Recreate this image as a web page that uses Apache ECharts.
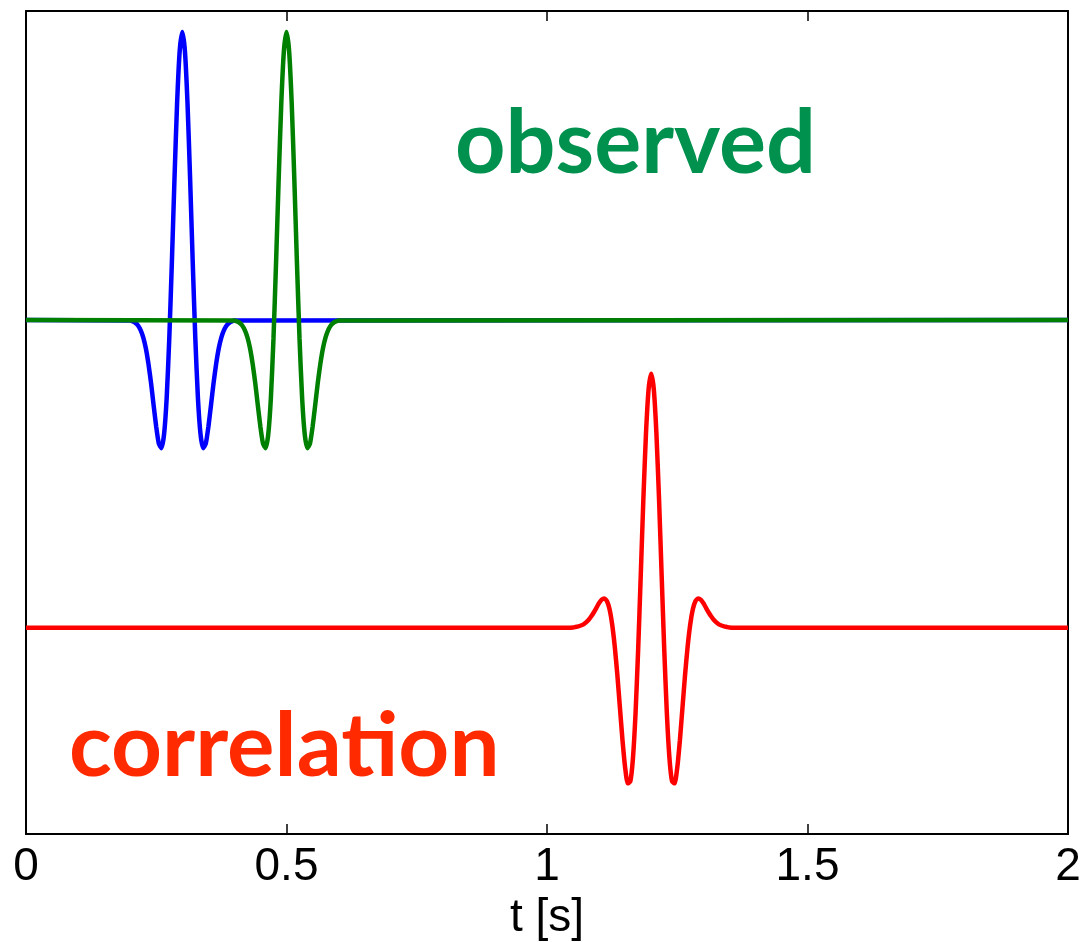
<!DOCTYPE html>
<html>
<head>
<meta charset="utf-8">
<script src="https://cdn.jsdelivr.net/npm/echarts@6/dist/echarts.min.js"></script>
<style>html,body{margin:0;padding:0;background:#fff}#c{width:1087px;height:942px}</style>
</head>
<body>
<div id="c"></div>
<script>
// x tick labels
var xTicks = [0, 0.5, 1, 1.5, 2];

// source wavelet (blue), centred at 0.3 s
var blueT = [0, 0.2, 0.205, 0.21, 0.215, 0.22, 0.225, 0.23, 0.235, 0.24, 0.245, 0.25, 0.255, 0.26, 0.265, 0.27, 0.275, 0.28, 0.285, 0.29, 0.295, 0.3,
  0.305, 0.31, 0.315, 0.32, 0.325, 0.33, 0.335, 0.34, 0.345, 0.35, 0.355, 0.36, 0.365, 0.37, 0.375, 0.38, 0.385, 0.39, 0.395, 0.4, 2];
var blueY = [0, -0.002, -0.005, -0.010, -0.019, -0.035, -0.060, -0.098, -0.152, -0.219, -0.297, -0.372, -0.430, -0.445, -0.397, -0.271, -0.065, 0.201, 0.490, 0.752, 0.934, 1.000,
  0.934, 0.752, 0.490, 0.201, -0.065, -0.271, -0.397, -0.445, -0.430, -0.372, -0.297, -0.219, -0.152, -0.098, -0.060, -0.035, -0.019, -0.010, -0.005, -0.002, 0];

// observed wavelet (green), centred at 0.5 s
var greenT = [0, 0.4, 0.405, 0.41, 0.415, 0.42, 0.425, 0.43, 0.435, 0.44, 0.445, 0.45, 0.455, 0.46, 0.465, 0.47, 0.475, 0.48, 0.485, 0.49, 0.495, 0.5,
  0.505, 0.51, 0.515, 0.52, 0.525, 0.53, 0.535, 0.54, 0.545, 0.55, 0.555, 0.56, 0.565, 0.57, 0.575, 0.58, 0.585, 0.59, 0.595, 0.6, 2];
var greenY = [0, -0.002, -0.005, -0.010, -0.019, -0.035, -0.060, -0.098, -0.152, -0.219, -0.297, -0.372, -0.430, -0.445, -0.397, -0.271, -0.065, 0.201, 0.490, 0.752, 0.934, 1.000,
  0.934, 0.752, 0.490, 0.201, -0.065, -0.271, -0.397, -0.445, -0.430, -0.372, -0.297, -0.219, -0.152, -0.098, -0.060, -0.035, -0.019, -0.010, -0.005, -0.002, 0];

// correlation (red), centred at 1.2 s, baseline -1.069
var redT = [0, 1.04, 1.05, 1.055, 1.06, 1.065, 1.07, 1.075, 1.08, 1.085, 1.09, 1.095, 1.1, 1.105, 1.11, 1.115, 1.12, 1.125, 1.13, 1.135, 1.14, 1.145, 1.15, 1.155, 1.16, 1.165, 1.17, 1.175, 1.18, 1.185, 1.19, 1.195, 1.2,
  1.205, 1.21, 1.215, 1.22, 1.225, 1.23, 1.235, 1.24, 1.245, 1.25, 1.255, 1.26, 1.265, 1.27, 1.275, 1.28, 1.285, 1.29, 1.295, 1.3, 1.305, 1.31, 1.315, 1.32, 1.325, 1.33, 1.335, 1.34, 1.345, 1.35, 1.36, 2];
var redY = [-1.069, -1.069, -1.068, -1.066, -1.064, -1.061, -1.057, -1.050, -1.041, -1.029, -1.015, -0.999, -0.983, -0.971, -0.967, -0.976, -1.004, -1.056, -1.133, -1.232, -1.347, -1.461, -1.555, -1.609, -1.602, -1.521, -1.364, -1.143, -0.884, -0.620, -0.394, -0.241, -0.187,
  -0.241, -0.394, -0.620, -0.884, -1.143, -1.364, -1.521, -1.602, -1.609, -1.555, -1.461, -1.347, -1.232, -1.133, -1.056, -1.004, -0.976, -0.967, -0.971, -0.983, -0.999, -1.015, -1.029, -1.041, -1.050, -1.057, -1.061, -1.064, -1.066, -1.068, -1.069, -1.069];

function pairs(t, y) { return t.map(function (v, i) { return [v, y[i]]; }); }

var chart = echarts.init(document.getElementById('c'), null, { renderer: 'canvas' });
var axisCommon = {
  type: 'value', min: 0, max: 2, interval: 0.5,
  axisLine: { show: true, onZero: false, lineStyle: { color: '#000', width: 2 } },
  axisTick: { show: true, inside: true, length: 10, lineStyle: { color: '#000', width: 1.5 } },
  splitLine: { show: false }
};
var yCommon = {
  type: 'value', min: -1.785, max: 1.073,
  axisLine: { show: true, onZero: false, lineStyle: { color: '#000', width: 2 } },
  axisTick: { show: false }, axisLabel: { show: false }, splitLine: { show: false }
};
chart.setOption({
  animation: false,
  backgroundColor: '#fff',
  grid: { left: 26, right: 19, top: 11, bottom: 108, containLabel: false, outerBoundsMode: 'none' },
  xAxis: [
    Object.assign({}, axisCommon, {
      position: 'bottom',
      axisLabel: {
        show: true, margin: 10, color: '#000', fontFamily: 'Liberation Sans', fontSize: 46,
        showMinLabel: true, showMaxLabel: true,
        formatter: function (v) { return xTicks.indexOf(v) >= 0 ? String(v) : ''; }
      },
      name: 't [s]', nameLocation: 'middle', nameGap: 60,
      nameTextStyle: { color: '#000', fontFamily: 'Liberation Sans', fontSize: 46 }
    }),
    Object.assign({}, axisCommon, { position: 'top', axisLabel: { show: false } })
  ],
  yAxis: [
    Object.assign({}, yCommon, { position: 'left' }),
    Object.assign({}, yCommon, { position: 'right' })
  ],
  series: [
    { type: 'line', data: pairs(blueT, blueY), showSymbol: false, smooth: 0.2, lineStyle: { color: '#0000ff', width: 4.5 }, z: 2 },
    { type: 'line', data: pairs(greenT, greenY), showSymbol: false, smooth: 0.2, lineStyle: { color: '#008000', width: 4.5 }, z: 3 },
    { type: 'line', data: pairs(redT, redY), showSymbol: false, smooth: 0.2, lineStyle: { color: '#ff0000', width: 4.5 }, z: 4 }
  ],
  graphic: [
    { type: 'text', x: 455, y: 145, scaleX: 1, style: { text: 'observed', fill: '#00914f', font: 'bold 88px Lato', align: 'left', verticalAlign: 'middle' } },
    { type: 'text', x: 69, y: 748, scaleX: 1.01, style: { text: 'correlation', fill: '#ff2a00', font: 'bold 88px Lato', align: 'left', verticalAlign: 'middle' } }
  ]
});
</script>
</body>
</html>
